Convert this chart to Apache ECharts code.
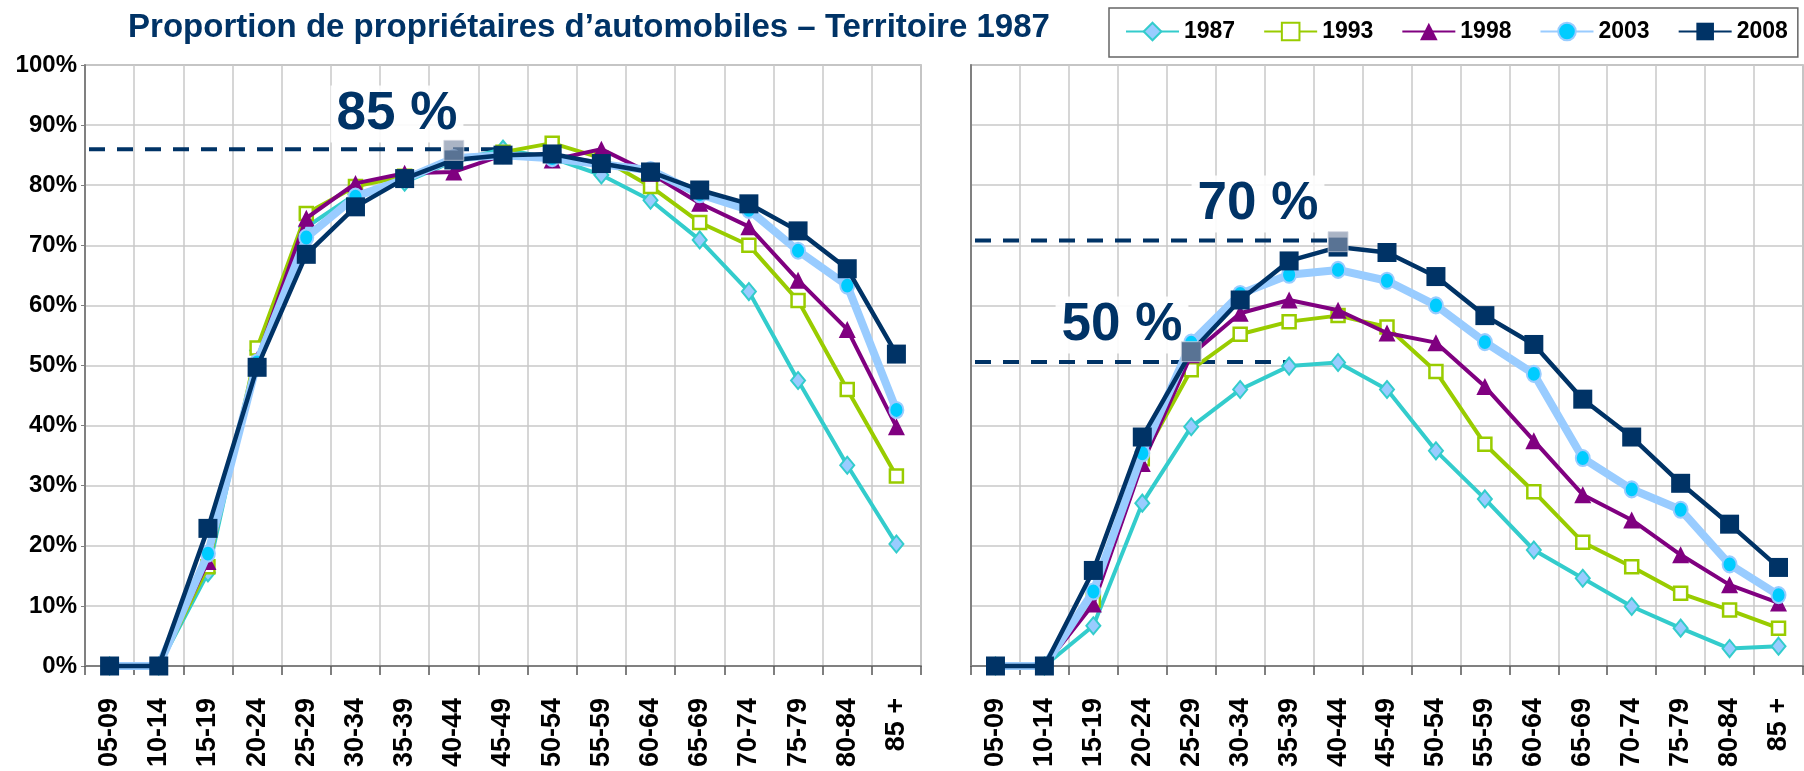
<!DOCTYPE html>
<html><head><meta charset="utf-8">
<script src="https://cdn.jsdelivr.net/npm/echarts@6/dist/echarts.min.js"></script>
<style>html,body{margin:0;padding:0;background:#fff}#c{width:1804px;height:771px}</style>
</head><body><div id="c"></div><script>
// ---------- DATA ----------
const categories = ['05-09','10-14','15-19','20-24','25-29','30-34','35-39','40-44','45-49','50-54','55-59','60-64','65-69','70-74','75-79','80-84','85 +'];
const years = ['1987','1993','1998','2003','2008'];

// Left panel (%)
const left1987 = [0,0,15.5,52.5,73,78.5,80.5,84,86,84.5,81.7,77.5,70.9,62.3,47.5,33.4,20.3];
const left1993 = [0,0,16.5,52.9,75.3,79.8,81.5,84,85.5,87,84.5,79.8,73.8,70,60.8,46,31.6];
const left1998 = [0,0,17.4,51,74.5,80.3,82,82.2,85,84.2,86,82,77,73.1,64.2,56,39.8];
const left2003 = [0,0,18.7,50.5,71.3,78.1,81,84.5,85,84.5,83.5,82.5,78.5,75.9,69.1,63.3,42.6];
const left2008 = [0,0,22.9,49.7,68.5,76.4,81.1,84.2,85,85.2,83.6,82.2,79.2,76.9,72.4,66.1,51.9];

// Right panel (%)
const right1987 = [0,0,6.7,27.1,39.8,46,49.9,50.5,46,35.8,27.8,19.3,14.6,9.9,6.3,2.9,3.3];
const right1993 = [0,0,11,34.5,49.3,55.2,57.3,58.3,56.4,49,36.9,29,20.6,16.5,12.1,9.3,6.3];
const right1998 = [0,0,10.3,33.7,51.8,58.7,60.9,59.2,55.4,53.8,46.5,37.5,28.5,24.3,18.5,13.5,10.5];
const right2003 = [0,0,12.4,35.4,53.8,61.9,65.1,65.9,64.1,60,53.9,48.6,34.6,29.4,26,16.9,11.8];
const right2008 = [0,0,15.9,38.1,52.3,60.9,67.4,69.7,68.8,64.8,58.3,53.5,44.4,38.1,30.4,23.6,16.4];

// y ticks
const yMin = 0, yMax = 100, yStep = 10;

// reference (dashed) lines: panel, value, last category
const refLinePanel = [0, 1, 1];
const refLineValue = [86, 70.8, 50.6];
const refLineEnd = ['45-49', '40-44', '35-39'];
const refLabels = ['85 %', '70 %', '50 %'];

// highlighted intersection points
const hlLeft = [['40-44', 85.8]];
const hlRight = [['25-29', 52.3], ['40-44', 70.6]];

const titleText = 'Proportion de propriétaires d\u2019automobiles \u2013 Territoire 1987';

// ---------- STYLES ----------
const FONT = "'Liberation Sans', Arial, sans-serif";
const styles = {
  '1987': {line: '#33CCCC', w: 4, symbol: 'diamond', size: [14, 17], item: {color: '#99CCFF', borderColor: '#33CCCC', borderWidth: 2}},
  '1993': {line: '#99CC00', w: 4, symbol: 'rect', size: 13, item: {color: '#FFFFFF', borderColor: '#99CC00', borderWidth: 2.5}},
  '1998': {line: '#800080', w: 4, symbol: 'triangle', size: 17, item: {color: '#800080', borderWidth: 0}},
  '2003': {line: '#99CCFF', w: 8, symbol: 'circle', size: [14, 16], item: {color: '#00CCFF', borderColor: '#99CCFF', borderWidth: 2}},
  '2008': {line: '#003366', w: 4.5, symbol: 'rect', size: 19, item: {color: '#003366', borderWidth: 0}}
};
const leftData = {'1987': left1987, '1993': left1993, '1998': left1998, '2003': left2003, '2008': left2008};
const rightData = {'1987': right1987, '1993': right1993, '1998': right1998, '2003': right2003, '2008': right2008};

function mkSeries(name, data, gi) {
  const s = styles[name];
  return {
    type: 'line', name: name, xAxisIndex: gi, yAxisIndex: gi, data: data,
    symbol: s.symbol, symbolSize: s.size, showSymbol: true, showAllSymbol: true,
    lineStyle: {color: s.line, width: s.w}, itemStyle: Object.assign({}, s.item),
    emphasis: {disabled: true}, clip: false, z: 3 + years.indexOf(name)
  };
}

const series = [];
years.forEach(y => series.push(mkSeries(y, leftData[y], 0)));
years.forEach(y => series.push(mkSeries(y, rightData[y], 1)));
[hlLeft, hlRight].forEach((d, gi) => series.push({
  type: 'scatter', name: 'hl' + gi, xAxisIndex: gi, yAxisIndex: gi, data: d,
  symbol: 'rect', symbolSize: 20, itemStyle: {color: 'rgba(130,145,170,0.85)', borderColor: 'rgba(210,215,225,0.9)', borderWidth: 1},
  z: 10, emphasis: {disabled: true}
}));

const gridLine = {color: '#C8C8C8', width: 1.5};
function xAxisFor(gi) {
  return {
    type: 'category', gridIndex: gi, data: categories, boundaryGap: true,
    axisLine: {show: true, onZero: false, lineStyle: {color: '#808080', width: 2}},
    axisTick: {show: true, interval: 0, length: 9, lineStyle: {color: '#555', width: 1.5}},
    axisLabel: {interval: 0, rotate: 90, margin: 32, fontSize: 27, fontWeight: 'bold', color: '#000', fontFamily: FONT},
    splitLine: {show: true, interval: 0, lineStyle: gridLine}
  };
}
function yAxisFor(gi) {
  return {
    type: 'value', gridIndex: gi, min: yMin, max: yMax, interval: yStep,
    axisLine: {show: true, lineStyle: {color: '#808080', width: 2}},
    axisTick: {show: gi === 0, length: 4, lineStyle: {color: '#808080'}},
    axisLabel: {show: gi === 0, formatter: '{value}%', margin: 8, fontSize: 24, fontWeight: 'bold', color: '#000', fontFamily: FONT},
    splitLine: {show: true, lineStyle: gridLine}
  };
}

const option = {
  animation: false,
  backgroundColor: '#fff',
  title: {
    text: titleText, left: 584, top: 6, textAlign: 'center',
    textStyle: {fontFamily: FONT, fontSize: 33, fontWeight: 'bold', color: '#003366'}
  },
  legend: {
    data: years, left: 1109, top: 8, orient: 'horizontal',
    itemWidth: 53, itemHeight: 22, itemGap: 28,
    padding: [12, 10, 14, 16], borderColor: '#666', borderWidth: 1.5,
    textStyle: {fontFamily: FONT, fontSize: 23, fontWeight: 'bold', color: '#000'},
    selectedMode: false
  },
  grid: [
    {left: 85, top: 65, width: 836, height: 601, show: true, borderColor: '#A8A8A8', borderWidth: 1.5, backgroundColor: 'transparent'},
    {left: 971, top: 65, width: 832, height: 601, show: true, borderColor: '#A8A8A8', borderWidth: 1.5, backgroundColor: 'transparent'}
  ],
  xAxis: [xAxisFor(0), xAxisFor(1)],
  yAxis: [yAxisFor(0), yAxisFor(1)],
  series: series
};

const chart = echarts.init(document.getElementById('c'), null, {renderer: 'canvas'});
chart.setOption(option);

// reference dashed lines placed through the axes' scales
const elements = [];
refLineValue.forEach((v, i) => {
  const gi = refLinePanel[i];
  const p0 = chart.convertToPixel({gridIndex: gi}, [categories[0], v]);
  const p1 = chart.convertToPixel({gridIndex: gi}, [categories[1], v]);
  const pe = chart.convertToPixel({gridIndex: gi}, [refLineEnd[i], v]);
  const x0 = p0[0] - (p1[0] - p0[0]) / 2 + 4;
  elements.push({
    type: 'line', z: 1, silent: true,
    shape: {x1: x0, y1: p0[1], x2: pe[0], y2: p0[1]},
    style: {stroke: '#003366', lineWidth: 4, lineDash: [16, 12]}
  });
});
const labelPos = [[397, 114], [1258, 204], [1122, 325]];
refLabels.forEach((t, i) => {
  elements.push({
    type: 'text', z: 2, silent: true, x: labelPos[i][0], y: labelPos[i][1],
    style: {text: t, fontFamily: FONT, fontSize: 53, fontWeight: 'bold', fill: '#003366',
            align: 'center', verticalAlign: 'middle', backgroundColor: 'rgba(255,255,255,0.9)', padding: [2, 6]}
  });
});
chart.setOption({graphic: {elements: elements}});
</script></body></html>
